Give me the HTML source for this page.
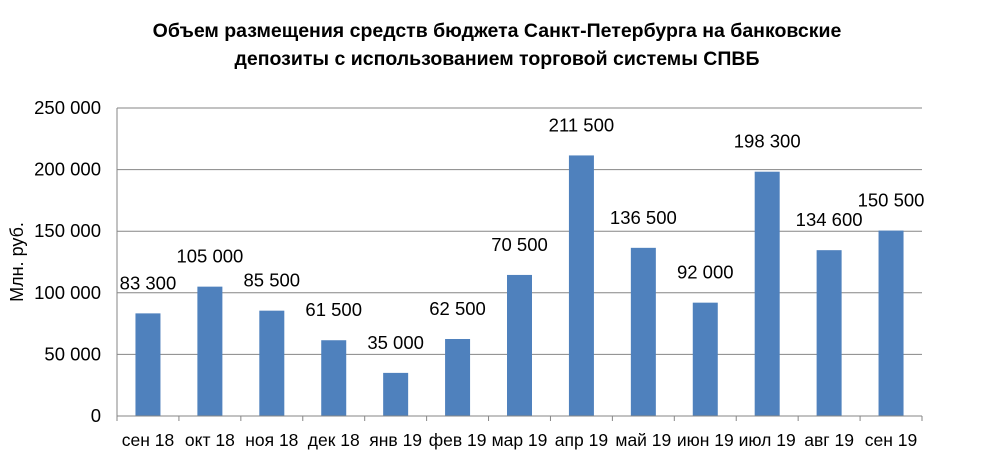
<!DOCTYPE html>
<html><head><meta charset="utf-8">
<style>
body{margin:0;background:#fff;width:994px;height:454px;overflow:hidden;font-family:"Liberation Sans",sans-serif;}
svg text{font-family:"Liberation Sans",sans-serif;}
</style></head>
<body>
<svg id="chart" width="994" height="454" viewBox="0 0 994 454">
<text x="497" y="37" text-anchor="middle" font-size="19.5" font-weight="bold">Объем размещения средств бюджета Санкт-Петербурга на банковские</text>
<text x="497" y="65" text-anchor="middle" font-size="19.5" font-weight="bold">депозиты с использованием торговой системы СПВБ</text>
<text transform="translate(23,262) rotate(-90)" text-anchor="middle" font-size="18">Млн. руб.</text>
<g id="grid"></g><g id="bars"></g><g id="labels"></g><g id="axes"></g>
</svg>
<script>
const categories=["сен 18","окт 18","ноя 18","дек 18","янв 19","фев 19","мар 19","апр 19","май 19","июн 19","июл 19","авг 19","сен 19"];
const values=[83300,105000,85500,61500,35000,62500,114500,211500,136500,92000,198300,134600,150500];
const valueLabels=["83 300","105 000","85 500","61 500","35 000","62 500","70 500","211 500","136 500","92 000","198 300","134 600","150 500"];
const yTicks=[0,50000,100000,150000,200000,250000];
const yTickLabels=["0","50 000","100 000","150 000","200 000","250 000"];
const NS="http://www.w3.org/2000/svg";
const L=117,R=922,T=108,B=416,yMax=250000;
const bw=(R-L)/categories.length;
const y=v=>B-(v/yMax)*(B-T);
const x=i=>L+bw*(i+0.5);
function mk(tag,attrs,parent){const e=document.createElementNS(NS,tag);for(const k in attrs)e.setAttribute(k,attrs[k]);document.getElementById(parent).appendChild(e);return e;}
yTicks.forEach((t,i)=>{
 const g=mk('line',{x1:L,x2:R,y1:y(t),y2:y(t),stroke:'#868686','stroke-width':1},'grid');
 
 
 const tl=mk('text',{x:101,y:y(t)+6,'text-anchor':'end','font-size':18.5},'axes');
 tl.textContent=yTickLabels[i];
 
 
});
values.forEach((v,i)=>{
 const b=mk('rect',{x:x(i)-12.5,y:y(v),width:25,height:B-y(v),fill:'#4f81bd'},'bars');
 
 
 const lb=mk('text',{x:x(i),y:y(v)-24,'text-anchor':'middle','font-size':18.5},'labels');
 lb.textContent=valueLabels[i];
 
 
 const xl=mk('text',{x:x(i),y:446,'text-anchor':'middle','font-size':17.5},'axes');
 xl.textContent=categories[i];
 
 
 const tk=mk('line',{x1:L+bw*(i+1),x2:L+bw*(i+1),y1:B,y2:B+5,stroke:'#868686'},'axes');
 
 
});
const ya=mk('line',{x1:L,x2:L,y1:T,y2:B+5,stroke:'#868686'},'axes');


const xa=mk('line',{x1:L,x2:R,y1:B,y2:B,stroke:'#868686'},'axes');


</script>
</body></html>
